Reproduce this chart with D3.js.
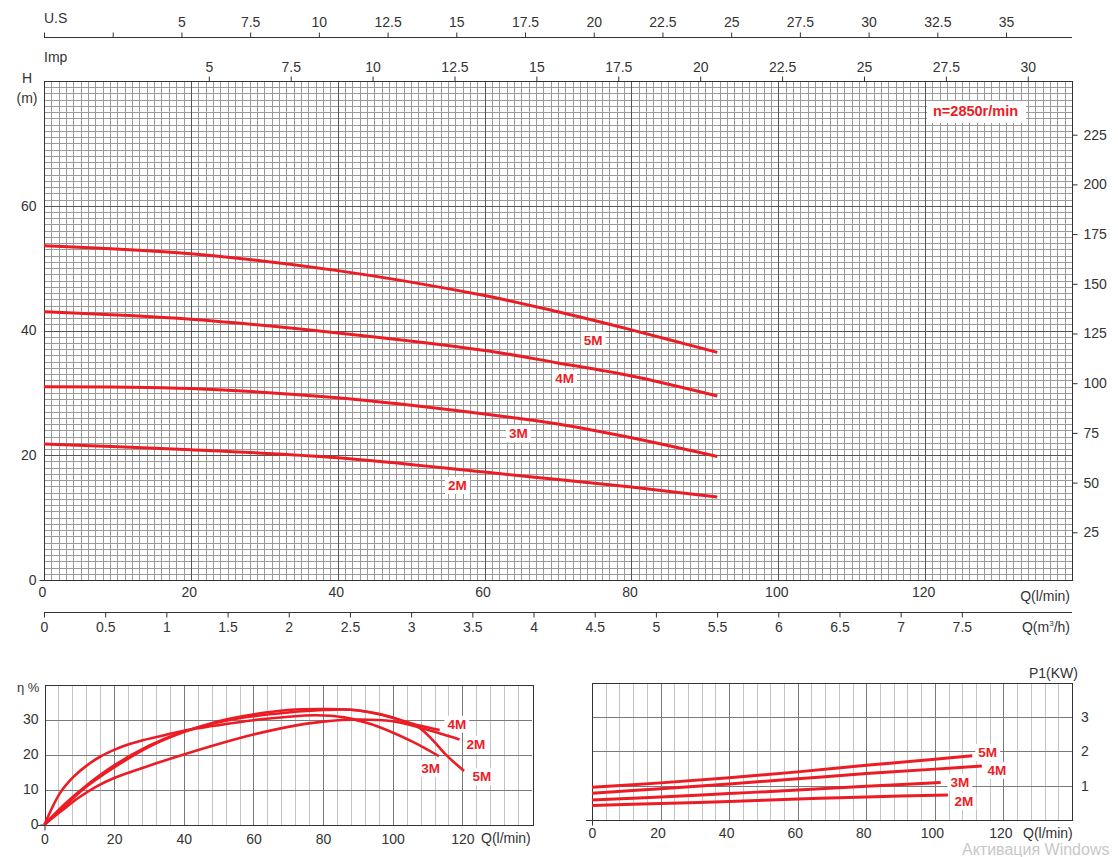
<!DOCTYPE html>
<html><head><meta charset="utf-8">
<script src="https://cdn.jsdelivr.net/npm/d3@7"></script>
<style>
body{margin:0;background:#fff;}
svg{display:block;font-family:"Liberation Sans",Arial,sans-serif;}
</style></head><body>
<svg id="c" width="1118" height="857"></svg>
<script>
// ---------------- DATA ----------------
const seriesNames = ["2M","3M","4M","5M"];

// Head curves: Q (l/min) -> H (m)
const headQ  = [0, 20, 40, 60, 70, 80, 91.7];
const head2M = [21.8, 20.9, 19.6, 17.3, 16.1, 14.9, 13.3];
const head3M = [31.0, 30.7, 29.2, 26.6, 25.0, 22.8, 19.8];
const head4M = [43.0, 41.8, 39.6, 36.8, 34.8, 32.7, 29.5];
const head5M = [53.6, 52.3, 49.6, 45.6, 43.0, 40.1, 36.5];
const headLabelPos = [[56.3,15.2],[64.6,23.5],[70.9,32.3],[74.8,38.5]];

// Efficiency curves: [Q (l/min), eta (%)]
const eta2M = [[0,0],[5,4],[10,7.8],[15,10.9],[20,13.3],[30,16.8],[40,20.0],[50,23.0],[60,25.7],[70,27.9],[80,29.4],[90,30],[100,29.5],[107.7,27.7],[119.2,24.3]];
const eta3M = [[0,0],[4.4,8.9],[8.3,13.6],[12.2,16.9],[16.2,19.5],[20.2,21.4],[24.2,22.9],[28.2,24.1],[32.2,25],[36,25.9],[40,26.8],[50,28.4],[60,29.8],[70,30.8],[78,31.2],[86,30.6],[92,29.2],[96.3,27.8],[105.8,23.6],[113.3,19.5]];
const eta4M = [[0,0],[6,6],[12.2,11.3],[20,16.9],[30,22.5],[40,26.6],[50,29.2],[56,30.4],[70,32.0],[80,32.7],[88,32.8],[96,31.5],[104,29.3],[108,28.2],[113.5,27.0]];
const eta5M = [[0,0],[6,5.5],[12.2,10.9],[20,16.3],[30,22.2],[40,26.4],[50,29.5],[56,30.8],[70,32.7],[80,33.0],[88,32.8],[96.3,31.6],[103.9,29.3],[107.7,27.6],[111.5,24.1],[115.4,19.8],[120.5,15.3]];
const etaLabelPos = [[123.9,23.0],[110.9,16.1],[118.4,28.7],[125.6,13.7]];

// Power curves: [Q (l/min), P1 (kW)]
const pow2M = [[0,0.42],[20,0.48],[40,0.54],[60,0.61],[80,0.67],[103.8,0.73]];
const pow3M = [[0,0.58],[20,0.67],[40,0.77],[60,0.87],[80,0.98],[101.7,1.09]];
const pow4M = [[0,0.78],[20,0.91],[40,1.05],[60,1.2],[80,1.35],[100,1.48],[113.7,1.57]];
const pow5M = [[0,0.95],[20,1.08],[40,1.23],[60,1.4],[80,1.59],[100,1.77],[110.9,1.87]];
const powLabelPos = [[108.5,0.55],[107.3,1.1],[118.1,1.45],[115.4,1.97]];

// Tick labels
const usTicks   = [0,2.5,5,7.5,10,12.5,15,17.5,20,22.5,25,27.5,30,32.5,35];
const impTicks  = [5,7.5,10,12.5,15,17.5,20,22.5,25,27.5,30];
const qTicks    = [0,20,40,60,80,100,120];
const m3hTicks  = [0,0.5,1,1.5,2,2.5,3,3.5,4,4.5,5,5.5,6,6.5,7,7.5];
const hTicks    = [0,20,40,60];
const ftTicks   = [25,50,75,100,125,150,175,200,225];
const etaTicks  = [0,10,20,30];
const powTicks  = [1,2,3];
const speedText = "n=2850r/min";

// ---------------- DRAW ----------------
const svg = d3.select("#c");
const RED = "#ed1c24", TXT = "#333", FS = 14;
const MINOR = "#9a9a9a", MAJOR = "#555", FRAME = "#333";
const fmt = d => String(d);
const CURVE = d3.curveCatmullRom.alpha(0.5);

function gridLine(g, x1, y1, x2, y2, color){
  g.append("line").attr("x1",x1).attr("y1",y1).attr("x2",x2).attr("y2",y2)
   .attr("stroke",color).attr("stroke-width",1).attr("shape-rendering","crispEdges");
}
function styleAxis(g){
  g.selectAll("text").attr("font-size",FS).attr("fill",TXT).attr("font-family","Liberation Sans, Arial, sans-serif");
  g.selectAll("line,path").attr("stroke",FRAME);
}
function addLabel(g, x, y, txt, size){
  const grp = g.append("g");
  const rect = grp.append("rect").attr("fill","#fff");
  const t = grp.append("text").attr("x",x).attr("y",y).attr("dy","0.35em")
     .attr("text-anchor","middle").attr("font-size",size).attr("font-weight","bold")
     .attr("fill",RED).text(txt);
  const b = t.node().getBBox();
  rect.attr("x",b.x-3).attr("y",b.y-1).attr("width",b.width+6).attr("height",b.height+2);
}

// ===== Main chart =====
const M = {l:44, r:1072, t:81, b:580};
const xQ   = d3.scaleLinear().domain([0,140]).range([M.l, M.r]);
const yH   = d3.scaleLinear().domain([0,80]).range([M.b, M.t]);
const xUS  = d3.scaleLinear().domain([0,37.4]).range([M.l, M.r]);
const xImp = d3.scaleLinear().domain([0,31.35]).range([M.l+1, M.r]);
const xM3h = d3.scaleLinear().domain([0,140/16.6667]).range([M.l, M.r]);
const yFt  = d3.scaleLinear().domain([0,252]).range([M.b+2, M.t]);

const gMain = svg.append("g");
const gGrid = gMain.append("g");
d3.range(1,140).forEach(q=>{ if(q%20) gridLine(gGrid, Math.round(xQ(q))+0.5, M.t, Math.round(xQ(q))+0.5, M.b, MINOR); });
d3.range(1,80).forEach(h=>{ if(h%20) gridLine(gGrid, M.l, Math.round(yH(h))+0.5, M.r, Math.round(yH(h))+0.5, MINOR); });
d3.range(20,140,20).forEach(q=> gridLine(gGrid, Math.round(xQ(q))+0.5, M.t, Math.round(xQ(q))+0.5, M.b, MAJOR));
d3.range(20,80,20).forEach(h=> gridLine(gGrid, M.l, Math.round(yH(h))+0.5, M.r, Math.round(yH(h))+0.5, MAJOR));
gMain.append("rect").attr("x",M.l+0.5).attr("y",M.t+0.5).attr("width",M.r-M.l).attr("height",M.b-M.t)
  .attr("fill","none").attr("stroke",FRAME).attr("shape-rendering","crispEdges");

// top US axis
const gUS = gMain.append("g").attr("transform","translate(0,37.5)")
  .call(d3.axisTop(xUS).tickValues(usTicks).tickSize(5).tickSizeOuter(0).tickPadding(6)
        .tickFormat(d=> d>=5 ? fmt(d) : ""));
styleAxis(gUS);
gUS.select(".domain").attr("d", `M${M.l},0H${M.r}`);
gMain.append("text").attr("x",M.l).attr("y",23).attr("font-size",FS).attr("fill",TXT).text("U.S");

// Imp axis
const gImp = gMain.append("g").attr("transform",`translate(0,${M.t+0.5})`)
  .call(d3.axisTop(xImp).tickValues(impTicks).tickSize(5).tickPadding(5).tickFormat(fmt));
styleAxis(gImp);
gImp.select(".domain").remove();
gMain.append("text").attr("x",M.l).attr("y",62).attr("font-size",FS).attr("fill",TXT).text("Imp");

// left H axis
const gH = gMain.append("g").attr("transform",`translate(${M.l+0.5},0)`)
  .call(d3.axisLeft(yH).tickValues(hTicks).tickSize(5).tickPadding(3).tickFormat(fmt));
styleAxis(gH);
gH.select(".domain").remove();
gH.selectAll(".tick line").filter(d=>d!==0).remove();
gMain.append("text").attr("x",27).attr("y",83).attr("text-anchor","middle").attr("font-size",FS).attr("fill",TXT).text("H");
gMain.append("text").attr("x",27).attr("y",103).attr("text-anchor","middle").attr("font-size",FS).attr("fill",TXT).text("(m)");

// right ft axis
const gFt = gMain.append("g").attr("transform",`translate(${M.r+0.5},0)`)
  .call(d3.axisRight(yFt).tickValues(ftTicks).tickSize(5).tickPadding(6).tickFormat(fmt));
styleAxis(gFt);
gFt.select(".domain").remove();

// bottom Q labels
const gQ = gMain.append("g").attr("transform",`translate(-2,${M.b})`)
  .call(d3.axisBottom(xQ).tickValues(qTicks).tickSize(0).tickPadding(7).tickFormat(fmt));
styleAxis(gQ);
gQ.select(".domain").remove();
gMain.append("text").attr("x",1070).attr("y",601).attr("text-anchor","end").attr("font-size",FS).attr("fill",TXT).text("Q(l/min)");

// m3/h axis
const gM3 = gMain.append("g").attr("transform","translate(0,612.5)")
  .call(d3.axisBottom(xM3h).tickValues(m3hTicks).tickSize(5).tickSizeOuter(0).tickPadding(5).tickFormat(fmt));
styleAxis(gM3);
gM3.select(".domain").attr("d", `M${M.l},0H${M.r}`);
const qm = gMain.append("text").attr("x",1070).attr("y",632).attr("text-anchor","end").attr("font-size",FS).attr("fill",TXT);
qm.append("tspan").text("Q(m");
qm.append("tspan").attr("font-size",8).attr("dy",-6).text("3");
qm.append("tspan").attr("dy",6).text("/h)");

// speed label
(function(){
  const g = gMain.append("g");
  const r = g.append("rect").attr("fill","#fff");
  const t = g.append("text").attr("x",933).attr("y",116).attr("font-size",14.5).attr("font-weight","bold").attr("fill",RED).text(speedText);
  const b = t.node().getBBox();
  r.attr("x",b.x-6).attr("y",M.t+20).attr("width",b.width+14).attr("height",22);
})();

// head curves
const headSeries = [head2M, head3M, head4M, head5M];
const lineH = d3.line().x((d,i)=>xQ(headQ[i])).y(d=>yH(d)).curve(CURVE);
headSeries.forEach(s=> gMain.append("path").attr("d",lineH(s)).attr("fill","none").attr("stroke",RED).attr("stroke-width",3));
seriesNames.forEach((n,i)=> addLabel(gMain, xQ(headLabelPos[i][0]), yH(headLabelPos[i][1]), n, 13.5));

// ===== Efficiency chart =====
const E = {l:44.5, r:532, t:684.5, b:824.5};
const xE = d3.scaleLinear().domain([0,140]).range([E.l, E.r]);
const yE = d3.scaleLinear().domain([0,40]).range([E.b, E.t]);
const gE = svg.append("g");
d3.range(4,140,4).forEach(q=>{ if(q%20) gridLine(gE, Math.round(xE(q))+0.5, E.t, Math.round(xE(q))+0.5, E.b, "#c4c4c4"); });
d3.range(20,140,20).forEach(q=> gridLine(gE, Math.round(xE(q))+0.5, E.t, Math.round(xE(q))+0.5, E.b, "#7a7a7a"));
[10,20,30].forEach(v=> gridLine(gE, E.l, Math.round(yE(v))+0.5, E.r, Math.round(yE(v))+0.5, "#7a7a7a"));
gE.append("rect").attr("x",Math.round(E.l)+0.5).attr("y",Math.round(E.t)+0.5).attr("width",E.r-E.l).attr("height",E.b-E.t)
  .attr("fill","none").attr("stroke",FRAME).attr("shape-rendering","crispEdges");
gridLine(gE, 38, Math.round(E.b)+0.5, E.r, Math.round(E.b)+0.5, FRAME);
const gEy = gE.append("g").attr("transform",`translate(${Math.round(E.l)+0.5},0)`)
  .call(d3.axisLeft(yE).tickValues(etaTicks).tickSize(5).tickPadding(2).tickFormat(fmt));
styleAxis(gEy); gEy.select(".domain").remove();
gEy.selectAll(".tick line").filter(d=>d!==0).remove();
const gEx = gE.append("g").attr("transform",`translate(0,${Math.round(E.b)+0.5})`)
  .call(d3.axisBottom(xE).tickValues(qTicks).tickSize(5).tickPadding(4).tickFormat(fmt));
styleAxis(gEx); gEx.select(".domain").remove();
gEx.selectAll(".tick line").filter(d=>d!==0).remove();
gE.append("text").attr("x",17).attr("y",692).attr("font-size",13).attr("fill",TXT).text("η %");
gE.append("text").attr("x",481).attr("y",843).attr("font-size",FS).attr("fill",TXT).text("Q(l/min)");
const lineE = d3.line().x(d=>xE(d[0])).y(d=>yE(d[1])).curve(CURVE);
[eta2M, eta3M, eta4M, eta5M].forEach(s=> gE.append("path").attr("d",lineE(s)).attr("fill","none").attr("stroke",RED).attr("stroke-width",2.6));
seriesNames.forEach((n,i)=> addLabel(gE, xE(etaLabelPos[i][0]), yE(etaLabelPos[i][1]), n, 13.5));

// ===== Power chart =====
const P = {l:592, r:1072, t:682.5, b:820};
const xP = d3.scaleLinear().domain([0,140]).range([P.l, P.r]);
const yP = d3.scaleLinear().domain([0,4]).range([P.b, P.t]);
const gP = svg.append("g");
d3.range(4,140,4).forEach(q=>{ if(q%20) gridLine(gP, Math.round(xP(q))+0.5, P.t, Math.round(xP(q))+0.5, P.b, "#c4c4c4"); });
d3.range(20,140,20).forEach(q=> gridLine(gP, Math.round(xP(q))+0.5, P.t, Math.round(xP(q))+0.5, P.b, "#7a7a7a"));
[1,2,3].forEach(v=> gridLine(gP, P.l, Math.round(yP(v))+0.5, P.r, Math.round(yP(v))+0.5, "#7a7a7a"));
gP.append("rect").attr("x",P.l+0.5).attr("y",Math.round(P.t)+0.5).attr("width",P.r-P.l).attr("height",P.b-Math.round(P.t))
  .attr("fill","none").attr("stroke",FRAME).attr("shape-rendering","crispEdges");
gridLine(gP, 586, P.b+0.5, P.r, P.b+0.5, FRAME);
const gPy = gP.append("g").attr("transform",`translate(${P.r},0)`)
  .call(d3.axisRight(yP).tickValues(powTicks).tickSize(0).tickPadding(9).tickFormat(fmt));
styleAxis(gPy); gPy.select(".domain").remove();
const gPx = gP.append("g").attr("transform",`translate(0,${P.b+0.5})`)
  .call(d3.axisBottom(xP).tickValues(qTicks).tickSize(5).tickPadding(3).tickFormat(fmt));
styleAxis(gPx); gPx.select(".domain").remove();
gPx.selectAll(".tick line").filter(d=>d!==0).remove();
gPx.selectAll(".tick text").attr("dx", d => d===0 ? 0 : -3);
gP.append("text").attr("x",1078).attr("y",678).attr("text-anchor","end").attr("font-size",FS).attr("fill",TXT).text("P1(KW)");
gP.append("text").attr("x",1023).attr("y",838).attr("font-size",FS).attr("fill",TXT).text("Q(l/min)");
const lineP = d3.line().x(d=>xP(d[0])).y(d=>yP(d[1])).curve(CURVE);
[pow2M, pow3M, pow4M, pow5M].forEach(s=> gP.append("path").attr("d",lineP(s)).attr("fill","none").attr("stroke",RED).attr("stroke-width",3));
seriesNames.forEach((n,i)=> addLabel(gP, xP(powLabelPos[i][0]), yP(powLabelPos[i][1]), n, 13.5));

// screenshot watermark text
svg.append("text").attr("x",962).attr("y",855).attr("font-size",16).attr("fill","#c8c8c8").text("Активация Windows");
</script>
</body></html>
